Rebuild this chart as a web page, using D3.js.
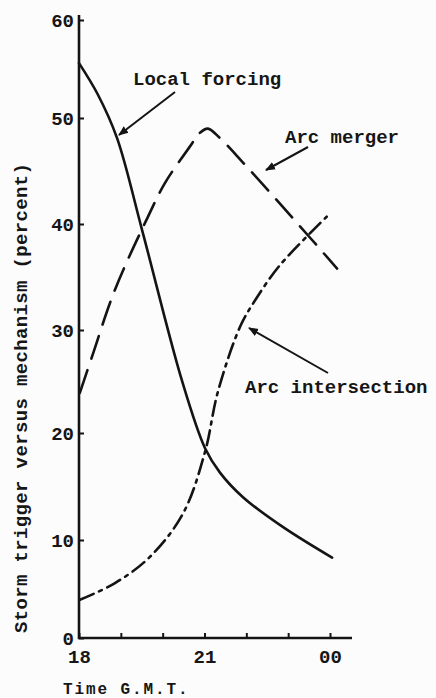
<!DOCTYPE html>
<html>
<head>
<meta charset="utf-8">
<script src="https://cdn.jsdelivr.net/npm/d3@7"></script>
<style>
  body { margin: 0; background: #fcfcfc; }
  svg { display: block; }
  text { font-family: "Liberation Mono", "DejaVu Sans Mono", monospace; font-weight: bold; fill: #161616; }
</style>
</head>
<body>
<div id="container"></div>
<script>
const width = 436, height = 698;
const INK = "#141414";

// hours G.M.T. (24 = 00) and percent
const localHours = [18, 18.45, 18.91, 19.51, 20.46, 21.01, 21.37, 21.92, 22.88, 24.05];
const localValues = [55.6, 52.4, 48.1, 39.4, 25.1, 18.6, 16.3, 14.0, 11.2, 8.2];

const mergerHours = [18.02, 18.31, 18.86, 19.65, 20.06, 20.65, 20.89, 21.08, 21.37, 21.92, 23.1, 24.17];
const mergerValues = [23.9, 27.4, 33.8, 40.7, 43.9, 47.3, 48.6, 49.0, 48.1, 45.8, 40.6, 35.8];

const interHours = [18.02, 18.86, 19.7, 20.49, 21.01, 21.32, 21.85, 22.21, 22.8, 23.95];
const interValues = [3.9, 5.6, 8.3, 12.5, 18.2, 24.0, 30.3, 32.8, 36.1, 40.8];

const xTicks = [18, 19, 20, 21, 22, 23, 24];
const xTickLabels = {18: "18", 21: "21", 24: "00"};
const yTicks = [0, 10, 20, 30, 40, 50, 60];

const series = [
  {name: "Local forcing", hours: localHours, values: localValues, dash: null},
  {name: "Arc merger", hours: mergerHours, values: mergerValues, dash: "24,12"},
  {name: "Arc intersection", hours: interHours, values: interValues, dash: "15,6,3,6"}
];

const svg = d3.select("#container").append("svg")
  .attr("width", width).attr("height", height);

const x = d3.scaleLinear().domain([18, 24]).range([79, 330]);
// the printed axis is a little uneven, so the scale follows the tick marks
const y = d3.scaleLinear().domain(yTicks).range([638, 540, 433, 330, 224, 118, 20]);

const defs = svg.append("defs");
defs.append("marker")
  .attr("id", "arrow")
  .attr("viewBox", "0 0 10 10")
  .attr("refX", 9).attr("refY", 5)
  .attr("markerWidth", 5).attr("markerHeight", 5)
  .attr("markerUnits", "strokeWidth")
  .attr("orient", "auto")
  .append("path")
  .attr("d", "M0,1 L10,5 L0,9 Z")
  .attr("fill", INK);

// axes
const yAxis = d3.axisLeft(y).tickValues(yTicks).tickSize(-5).tickPadding(5).tickFormat(d3.format("d"));
const gy = svg.append("g").attr("transform", `translate(${x(18)},0)`).call(yAxis);
gy.select(".domain").remove();
gy.selectAll("line").attr("stroke", INK).attr("stroke-width", 2);
gy.selectAll("text").attr("font-size", 19).attr("dy", "0.36em");

const xAxis = d3.axisBottom(x).tickValues(xTicks).tickSize(-5).tickPadding(12).tickFormat(d => xTickLabels[d] || "");
const gx = svg.append("g").attr("transform", `translate(0,${y(0)})`).call(xAxis);
gx.select(".domain").remove();
gx.selectAll("line").attr("stroke", INK).attr("stroke-width", 2);
gx.selectAll("text").attr("font-size", 19);

svg.append("path")
  .attr("d", `M${x(18)},15 V${y(0)} H352`)
  .attr("fill", "none").attr("stroke", INK).attr("stroke-width", 2.6);

// curves
const line = d3.line()
  .x(d => x(d[0]))
  .y(d => y(d[1]))
  .curve(d3.curveCatmullRom.alpha(0.5));

svg.append("g").selectAll("path")
  .data(series)
  .join("path")
  .attr("d", s => line(d3.zip(s.hours, s.values)))
  .attr("fill", "none")
  .attr("stroke", INK)
  .attr("stroke-width", 2.6)
  .attr("stroke-linecap", "round")
  .attr("stroke-dasharray", s => s.dash);

// annotations with pointer arrows
const notes = [
  {text: "Local forcing", tx: 133, ty: 85, from: [175, 92], to: [119, 135]},
  {text: "Arc merger", tx: 285, ty: 143, from: [308, 147], to: [266, 170]},
  {text: "Arc intersection", tx: 245, ty: 393, from: [328, 373], to: [249, 328]}
];

svg.append("g").selectAll("line")
  .data(notes)
  .join("line")
  .attr("x1", d => d.from[0]).attr("y1", d => d.from[1])
  .attr("x2", d => d.to[0]).attr("y2", d => d.to[1])
  .attr("stroke", INK).attr("stroke-width", 2)
  .attr("marker-end", "url(#arrow)");

svg.append("g").selectAll("text")
  .data(notes)
  .join("text")
  .attr("x", d => d.tx).attr("y", d => d.ty)
  .attr("font-size", 19)
  .text(d => d.text);

// axis titles
svg.append("text")
  .attr("x", 63).attr("y", 694)
  .attr("font-size", 16)
  .attr("font-weight", "normal")
  .attr("letter-spacing", 1.9)
  .text("Time G.M.T.");

svg.append("text")
  .attr("transform", "translate(27,398) rotate(-90)")
  .attr("text-anchor", "middle")
  .attr("font-size", 19)
  .attr("textLength", 470)
  .text("Storm trigger versus mechanism (percent)");
</script>
</body>
</html>
